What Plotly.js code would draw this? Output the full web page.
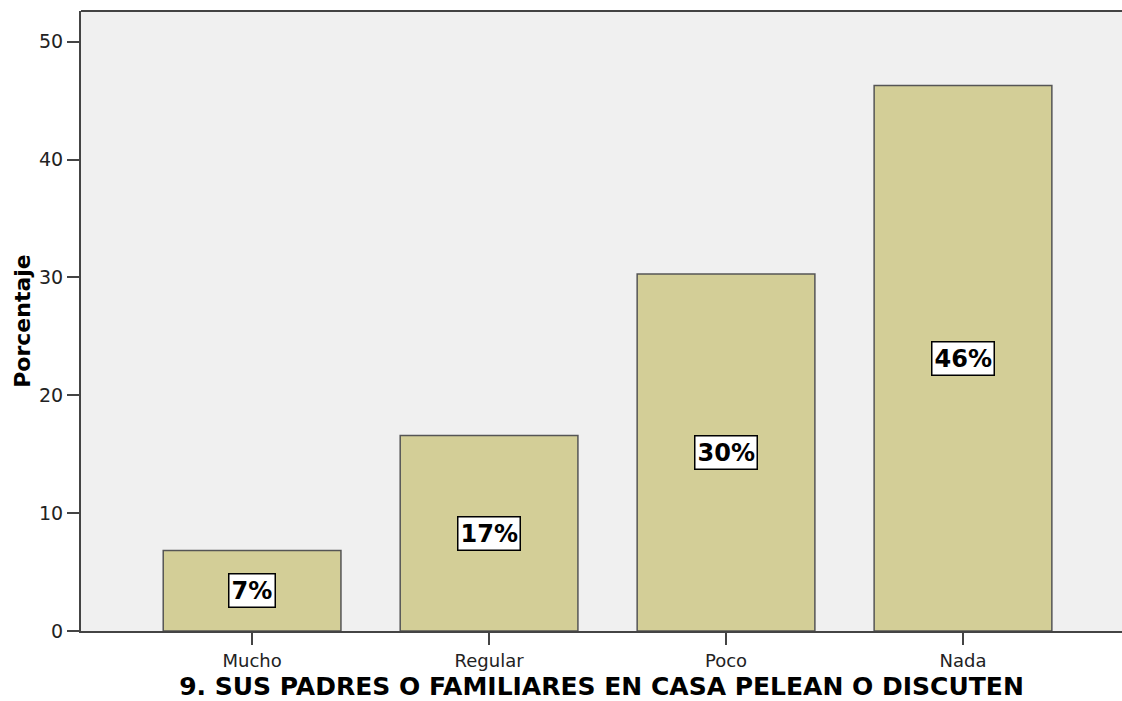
<!DOCTYPE html>
<html>
<head>
<meta charset="utf-8">
<script src="https://cdn.plot.ly/plotly-3.0.1.min.js"></script>
<style>
  html, body { margin: 0; padding: 0; background: #ffffff; }
  #chart { width: 1122px; height: 701px; }
</style>
</head>
<body>
<div id="chart"></div>
<script>
const categories = ["Mucho", "Regular", "Poco", "Nada"];
const percentages = [6.84, 16.58, 30.29, 46.27];
const labels = ["7%", "17%", "30%", "46%"];
const yTickValues = [0, 10, 20, 30, 40, 50];

const FONT = "DejaVu Sans, Liberation Sans, Arial, sans-serif";

const trace = {
  type: "bar",
  x: categories,
  y: percentages,
  marker: { color: "#d3ce97", line: { color: "#555555", width: 1.5 } },
  hoverinfo: "x+y"
};

const annotations = categories.map((c, i) => ({
  x: c,
  y: percentages[i] / 2,
  xref: "x",
  yref: "y",
  text: "<b>" + labels[i] + "</b>",
  showarrow: false,
  font: { family: FONT, size: 24, color: "#000000" },
  bgcolor: "#ffffff",
  bordercolor: "#000000",
  borderwidth: 1.5,
  borderpad: 2
}));

const layout = {
  width: 1122,
  height: 701,
  margin: { l: 81, r: 0, t: 11, b: 70 },
  paper_bgcolor: "#ffffff",
  plot_bgcolor: "#f0f0f0",
  bargap: 0.25,
  showlegend: false,
  font: { family: FONT },
  xaxis: {
    type: "category",
    range: [-0.722, 3.671],
    showgrid: false,
    zeroline: false,
    showline: true,
    linecolor: "#444444",
    linewidth: 2,
    ticks: "outside",
    ticklen: 12,
    tickwidth: 2,
    tickcolor: "#444444",
    tickfont: { family: FONT, size: 18, color: "#222222" },
    title: {
      text: "<b>9. SUS PADRES O FAMILIARES EN CASA PELEAN O DISCUTEN</b>",
      font: { family: FONT, size: 25, color: "#000000" },
      standoff: 12
    },
    automargin: false
  },
  yaxis: {
    range: [0, 52.6],
    tickvals: yTickValues,
    ticktext: yTickValues.map(String),
    showgrid: false,
    zeroline: false,
    showline: true,
    linecolor: "#444444",
    linewidth: 2,
    ticks: "outside",
    ticklen: 12,
    tickwidth: 2,
    tickcolor: "#444444",
    tickfont: { family: FONT, size: 19, color: "#222222" },
    title: {
      text: "<b>Porcentaje</b>",
      font: { family: FONT, size: 22, color: "#000000" },
      standoff: 2
    },
    automargin: false
  },
  shapes: [
    {
      type: "line", xref: "paper", yref: "paper",
      x0: 0, x1: 1, y0: 1, y1: 1,
      line: { color: "#444444", width: 2 }
    }
  ],
  annotations: annotations
};

Plotly.newPlot("chart", [trace], layout, { displayModeBar: false, staticPlot: true });
</script>
</body>
</html>
